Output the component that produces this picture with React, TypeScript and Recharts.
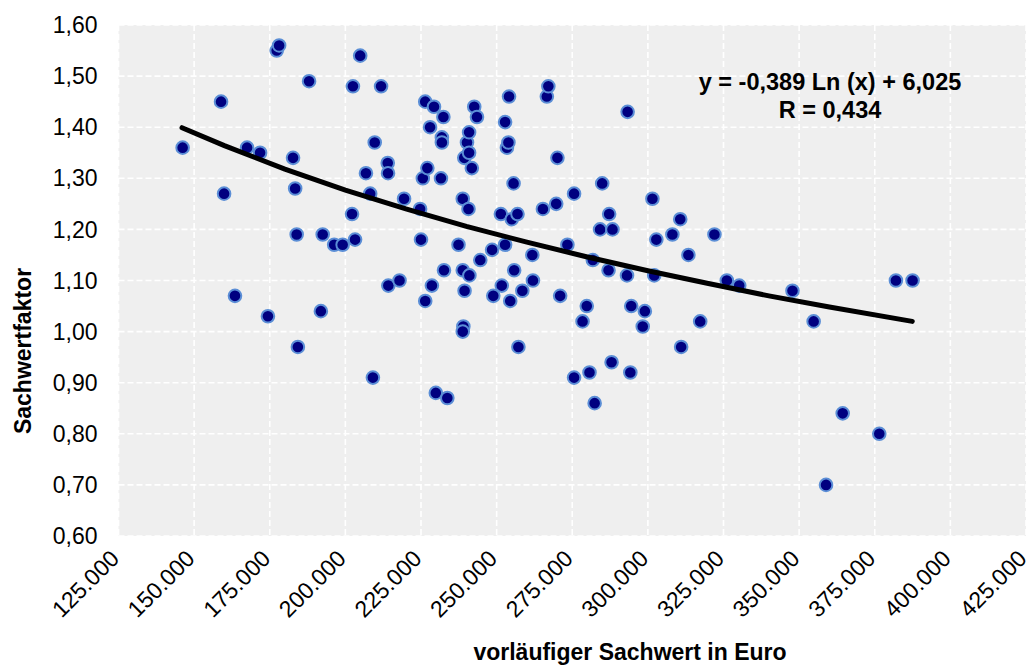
import { ScatterChart, Scatter, XAxis, YAxis, CartesianGrid } from 'recharts';

const FONT = '"Liberation Sans", Arial, sans-serif';

// vorläufiger Sachwert (Euro) und Sachwertfaktor je Objekt
const sachwert = [
  146200, 158900, 159900, 163500, 167500, 171800, 174400, 177300, 178100, 182700,
  183400, 183900, 184300, 188000, 191900, 192500, 196300, 199100, 202200, 202500,
  203200, 204900, 206800, 208200, 209100, 209700, 211800, 214000, 214100, 214200,
  217900, 219400, 224700, 225000, 225600, 226400, 226400, 227100, 228000, 228600,
  229300, 229900, 231600, 231900, 231900, 232400, 232600, 233700, 237400, 238800,
  238800, 239000, 238800, 239300, 240200, 239400, 240700, 240900, 240900, 241000,
  241800, 242600, 243500, 244600, 248500, 248900, 251400, 251700, 252800, 252800,
  253400, 254100, 253900, 254500, 255600, 255800, 255000, 256900, 257200, 258500,
  262000, 261800, 265300, 266600, 267100, 269700, 270100, 271000, 273400, 275600,
  275600, 278400, 279800, 280700, 281800, 282400, 284200, 284900, 287200, 287000,
  288000, 288300, 293300, 293100, 294200, 294500, 298300, 299000, 301500, 302100,
  302800, 308100, 310700, 311000, 313400, 317300, 322000, 326100, 330200, 347800,
  354800, 358900, 364400, 376500, 382000, 387500,
];
const faktor = [
  1.36, 1.45, 1.27, 1.07, 1.36, 1.35, 1.03, 1.55, 1.56, 1.34,
  1.28, 1.19, 0.97, 1.49, 1.04, 1.19, 1.17, 1.17, 1.23, 1.48,
  1.18, 1.54, 1.31, 1.27, 0.91, 1.37, 1.48, 1.33, 1.31, 1.09,
  1.10, 1.26, 1.24, 1.18, 1.30, 1.45, 1.06, 1.32, 1.40, 1.09,
  1.44, 0.88, 1.30, 1.38, 1.37, 1.42, 1.12, 0.87, 1.17, 1.26,
  1.12, 1.01, 1.00, 1.34, 1.37, 1.08, 1.24, 1.39, 1.35, 1.11,
  1.32, 1.44, 1.42, 1.14, 1.16, 1.07, 1.23, 1.09, 1.17, 1.41,
  1.36, 1.46, 1.37, 1.06, 1.29, 1.12, 1.22, 1.23, 0.97, 1.08,
  1.10, 1.15, 1.24, 1.46, 1.48, 1.25, 1.34, 1.07, 1.17, 0.91,
  1.27, 1.02, 1.05, 0.92, 1.14, 0.86, 1.20, 1.29, 1.23, 1.12,
  0.94, 1.20, 1.43, 1.11, 0.92, 1.05, 1.01, 1.04, 1.26, 1.11,
  1.18, 1.19, 1.22, 0.97, 1.15, 1.02, 1.19, 1.10, 1.09, 1.08,
  1.02, 0.70, 0.84, 0.80, 1.10, 1.10,
];

// Trendlinie (logarithmisch)
const trendX = [146000, 160000, 180000, 200000, 220000, 240000, 260000, 280000, 300000, 320000, 340000, 360000, 387400];
const trendY = [1.399, 1.364, 1.318, 1.277, 1.240, 1.206, 1.175, 1.146, 1.119, 1.094, 1.070, 1.048, 1.020];

const xTicks = [125000, 150000, 175000, 200000, 225000, 250000, 275000, 300000, 325000, 350000, 375000, 400000, 425000];
const yTicks = [0.6, 0.7, 0.8, 0.9, 1.0, 1.1, 1.2, 1.3, 1.4, 1.5, 1.6];

const points = sachwert.map((x, i) => ({ x, y: faktor[i] }));
const trend = trendX.map((x, i) => ({ x, y: trendY[i] }));

const fmtX = (v: number) => `${Math.round(v / 1000)}.000`;
const fmtY = (v: number) => v.toFixed(2).replace('.', ',');

const XTick = (props: any) => {
  const { x, y, payload } = props;
  const ax = x + 2;
  const ay = y + 24;
  return (
    <text x={ax} y={ay} transform={`rotate(-45 ${ax} ${ay})`} textAnchor="end" fontSize={23} fontFamily={FONT} fill="#000">
      {fmtX(payload.value)}
    </text>
  );
};

const Dot = (props: any) => (
  <circle cx={props.cx} cy={props.cy} r={6.3} fill="#000080" stroke="#5b8ed6" strokeWidth={2} />
);

const XTitle = () => (
  <text x={630} y={660} textAnchor="middle" fontSize={23} fontWeight="bold" fontFamily={FONT} fill="#000">
    vorläufiger Sachwert in Euro
  </text>
);

const YTitle = () => (
  <text x={31} y={351} transform="rotate(-90 31 351)" textAnchor="middle" fontSize={23} fontWeight="bold" fontFamily={FONT} fill="#000">
    Sachwertfaktor
  </text>
);

export default function App() {
  return (
    <div style={{ position: 'absolute', left: 0, top: 0, width: 1033, height: 665, background: '#fff' }}>
      <ScatterChart width={1033} height={665} margin={{ top: 25, right: 7, bottom: 0, left: 0 }}>
        <CartesianGrid fill="#efefef" stroke="#ffffff" strokeWidth={1.6} strokeDasharray="6 3" horizontalValues={yTicks} verticalValues={xTicks} />
        <XAxis
          type="number"
          dataKey="x"
          domain={[125000, 425000]}
          ticks={xTicks}
          interval={0}
          axisLine={false}
          tickLine={false}
          tickSize={0}
          tickMargin={0}
          height={129}
          tick={<XTick />}
          label={<XTitle />}
        />
        <YAxis
          type="number"
          dataKey="y"
          domain={[0.6, 1.6]}
          ticks={yTicks}
          interval={0}
          axisLine={false}
          tickLine={false}
          tickSize={0}
          tickMargin={21}
          width={118.5}
          tickFormatter={fmtY}
          tick={{ fontSize: 23, fontFamily: FONT, fill: '#000' }}
          label={<YTitle />}
        />
        <Scatter data={points} shape={<Dot />} isAnimationActive={false} />
        <Scatter
          data={trend}
          line={{ stroke: '#000', strokeWidth: 5, strokeLinecap: 'round' }}
          lineType="joint"
          shape={() => <g />}
          isAnimationActive={false}
        />
      </ScatterChart>
      <svg width={1033} height={665} style={{ position: 'absolute', left: 0, top: 0, pointerEvents: 'none' }}>
        <text x={830} y={90} textAnchor="middle" fontSize={23.5} fontWeight="bold" fontFamily={FONT} fill="#000">
          y = -0,389 Ln (x) + 6,025
        </text>
        <text x={830} y={118} textAnchor="middle" fontSize={23.5} fontWeight="bold" fontFamily={FONT} fill="#000">
          R = 0,434
        </text>
      </svg>
    </div>
  );
}
